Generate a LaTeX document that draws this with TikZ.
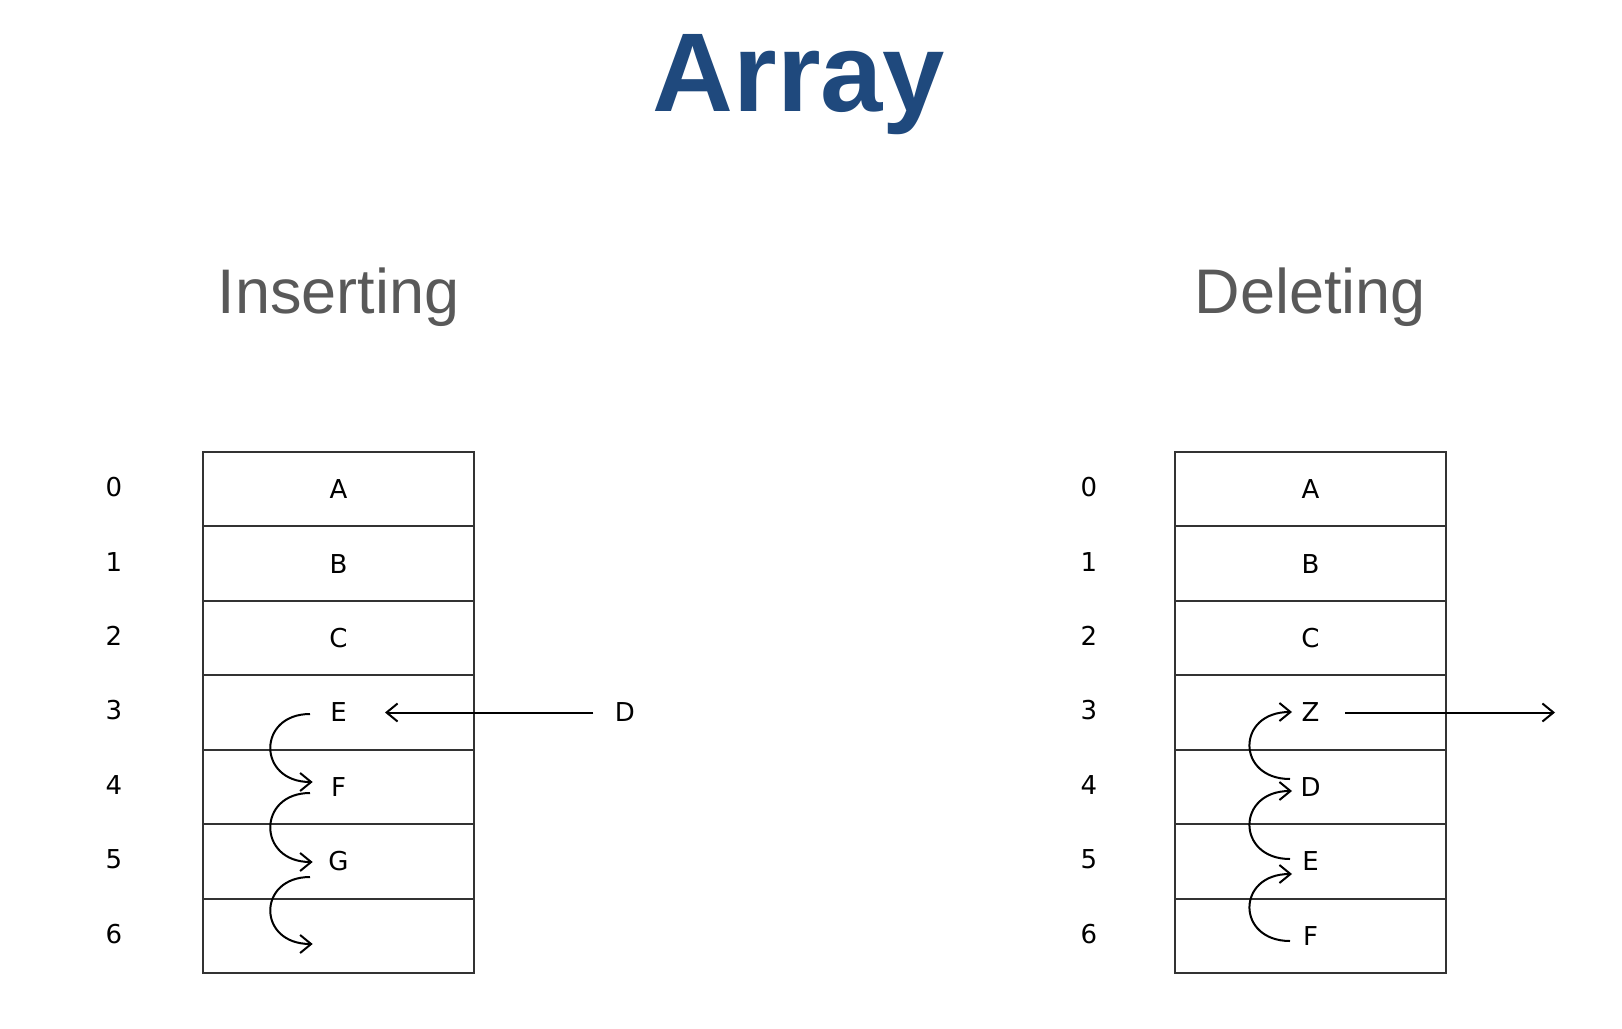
\documentclass[tikz,border=0pt]{standalone}
\usepackage{fontspec}
\setmainfont{Liberation Sans}
\newfontfamily\cellfont{DejaVu Sans}
\usetikzlibrary{arrows.meta}
\definecolor{titleblue}{RGB}{31,73,125}
\definecolor{subgray}{RGB}{89,89,89}
\begin{document}
\begin{tikzpicture}[x=1pt,y=-1pt,
  cell/.style={draw=black!80, line width=1.9pt, minimum width=271pt, minimum height=74.43pt, inner sep=0pt, font=\cellfont\fontsize{26}{31}\selectfont},
  idx/.style={font=\cellfont\fontsize{26}{31}\selectfont},
  lbl/.style={font=\cellfont\fontsize{26}{31}\selectfont},
  mv/.style={line width=2pt, -{Straight Barb[length=11pt,width=18pt]}},
  sub/.style={anchor=base, font=\fontsize{63}{70}\selectfont, text=subgray},
]
\useasboundingbox (0,0) rectangle (1622,1028);
\fill[white] (0,0) rectangle (1622,1028);

\node[anchor=base, font=\bfseries\fontsize{112}{120}\selectfont, text=titleblue] (title) at (799,111) {Array};
\node[sub] (ins) at (338.5,313) {Inserting};
\node[sub] (del) at (1310.5,313) {Deleting};

% left table
\foreach \i/\t in {0/A,1/B,2/C,3/E,4/F,5/G,6/{}}
  \node[cell] (L\i) at (338.5,{452+74.43*(\i+0.5)}) {\t};
% right table
\foreach \i/\t in {0/A,1/B,2/C,3/Z,4/D,5/E,6/F}
  \node[cell] (R\i) at (1310.5,{452+74.43*(\i+0.5)}) {\t};
% indices
\foreach \i in {0,...,6} {
  \node[idx] (LI\i) at (114,{452+74.43*(\i+0.5)-2}) {\i};
  \node[idx] (RI\i) at (1089,{452+74.43*(\i+0.5)-2}) {\i};
}

% inserting
\node[lbl] (newD) at (625,712.5) {D};
\coordinate (insTip) at (385,712.5);
\draw[mv] (newD.west) ++(-18,0) coordinate (insStart) -- (insTip);

\coordinate (a1s) at (310,714);   \coordinate (a1e) at (312.7,782);
\coordinate (a2s) at (310,793);   \coordinate (a2e) at (312.7,862);
\coordinate (a3s) at (310,877);   \coordinate (a3e) at (312.7,944);
\draw[mv] (a1s) .. controls (257,714) and (257,782) .. (a1e);
\draw[mv] (a2s) .. controls (257,793) and (257,862) .. (a2e);
\draw[mv] (a3s) .. controls (257,877) and (257,944) .. (a3e);

% deleting
\coordinate (delStart) at (1345,712.5);
\coordinate (delTip) at (1555,712.5);
\draw[mv] (delStart) -- (delTip);

\coordinate (b1s) at (1290,779);  \coordinate (b1e) at (1292,712);
\coordinate (b2s) at (1290,859);  \coordinate (b2e) at (1292,791);
\coordinate (b3s) at (1290,941);  \coordinate (b3e) at (1292,874);
\draw[mv] (b1s) .. controls (1236,779) and (1236,712) .. (b1e);
\draw[mv] (b2s) .. controls (1236,859) and (1236,791) .. (b2e);
\draw[mv] (b3s) .. controls (1236,941) and (1236,874) .. (b3e);
\end{tikzpicture}
\end{document}
